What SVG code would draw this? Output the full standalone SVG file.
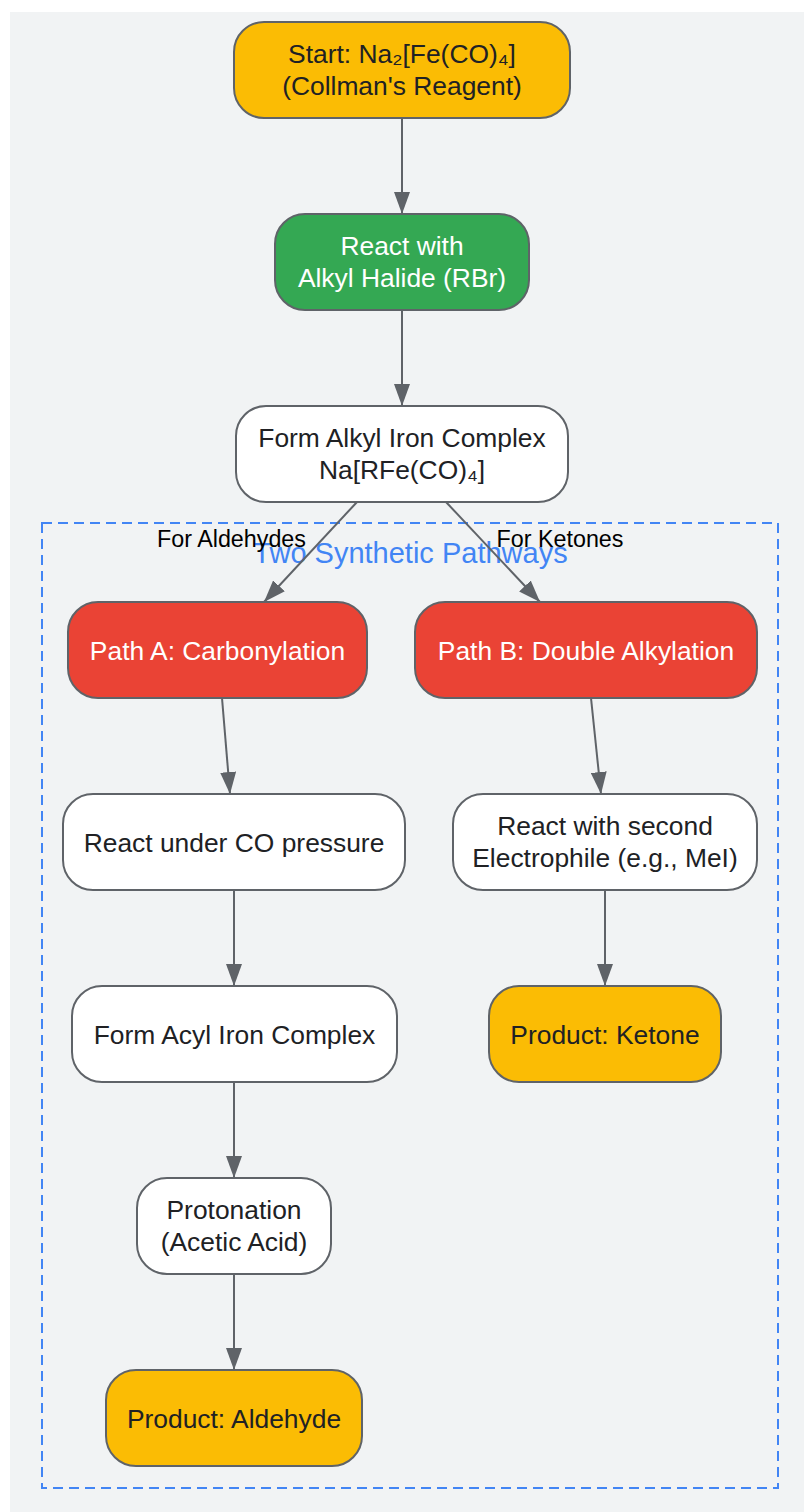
<svg xmlns="http://www.w3.org/2000/svg" width="804" height="1512" viewBox="0 0 804 1512">
<style>
.bg{fill:#f1f3f4}
.cluster{fill:none;stroke:#4285f4;stroke-width:2;stroke-dasharray:10 6}
.node rect{stroke:#5f6368;stroke-width:2}
.white rect{fill:#ffffff}
.yellow rect{fill:#fbbc04}
.green rect{fill:#34a853}
.red rect{fill:#ea4335}
text{font-family:"Liberation Sans",Arial,sans-serif;text-anchor:middle}
.node text{font-size:26.4px;fill:#202124}
.green text,.red text{fill:#ffffff}
.edge{stroke:#5f6368;stroke-width:2;fill:none;marker-end:url(#arrow)}
.elabel{font-size:23.3px;fill:#000000}
.ctitle{font-size:29px;fill:#4285f4}
</style>
<defs>
<marker id="arrow" markerUnits="userSpaceOnUse" markerWidth="22" markerHeight="16" refX="22" refY="8" orient="auto">
<path d="M0,0 L22,8 L0,16 z" fill="#5f6368"/>
</marker>
</defs>
<rect class="bg" x="10" y="12" width="794" height="1500"/>
<g id="cluster-pathways">
<rect class="cluster" x="42" y="523" width="736" height="965"/>
<text class="ctitle" x="410.5" y="563">Two Synthetic Pathways</text>
</g>
<g id="connectors">
<line class="edge" x1="402" y1="118" x2="402" y2="214"/>
<line class="edge" x1="402" y1="310" x2="402" y2="406"/>
<line class="edge" x1="357" y1="502" x2="264" y2="602"/>
<line class="edge" x1="446" y1="502" x2="540" y2="602"/>
<line class="edge" x1="222" y1="698" x2="230" y2="794"/>
<line class="edge" x1="591" y1="698" x2="601" y2="794"/>
<line class="edge" x1="234" y1="890" x2="234" y2="986"/>
<line class="edge" x1="605" y1="890" x2="605" y2="986"/>
<line class="edge" x1="234" y1="1082" x2="234" y2="1178"/>
<line class="edge" x1="234" y1="1274" x2="234" y2="1370"/>
<text class="elabel" x="231.5" y="547">For Aldehydes</text>
<text class="elabel" x="560" y="547">For Ketones</text>
</g>
<g id="start" class="node yellow">
<rect x="234" y="22" width="336" height="96" rx="30"/>
<text x="402" y="63">Start: Na₂[Fe(CO)₄]</text>
<text x="402" y="95">(Collman's Reagent)</text>
</g>
<g id="react-rbr" class="node green">
<rect x="275" y="214" width="254" height="96" rx="30"/>
<text x="402" y="255">React with</text>
<text x="402" y="287">Alkyl Halide (RBr)</text>
</g>
<g id="alkyl-complex" class="node white">
<rect x="236" y="406" width="332" height="96" rx="30"/>
<text x="402" y="447">Form Alkyl Iron Complex</text>
<text x="402" y="479">Na[RFe(CO)₄]</text>
</g>
<g id="path-a" class="node red">
<rect x="68" y="602" width="299" height="96" rx="30"/>
<text x="217.5" y="659.5">Path A: Carbonylation</text>
</g>
<g id="path-b" class="node red">
<rect x="415" y="602" width="342" height="96" rx="30"/>
<text x="586" y="659.5">Path B: Double Alkylation</text>
</g>
<g id="co-pressure" class="node white">
<rect x="63" y="794" width="342" height="96" rx="30"/>
<text x="234" y="851.5">React under CO pressure</text>
</g>
<g id="second-electrophile" class="node white">
<rect x="453" y="794" width="304" height="96" rx="30"/>
<text x="605" y="835">React with second</text>
<text x="605" y="867">Electrophile (e.g., MeI)</text>
</g>
<g id="acyl-complex" class="node white">
<rect x="72" y="986" width="325" height="96" rx="30"/>
<text x="234.5" y="1043.5">Form Acyl Iron Complex</text>
</g>
<g id="ketone" class="node yellow">
<rect x="489" y="986" width="232" height="96" rx="30"/>
<text x="605" y="1043.5">Product: Ketone</text>
</g>
<g id="protonation" class="node white">
<rect x="137" y="1178" width="194" height="96" rx="30"/>
<text x="234" y="1219">Protonation</text>
<text x="234" y="1251">(Acetic Acid)</text>
</g>
<g id="aldehyde" class="node yellow">
<rect x="106" y="1370" width="256" height="96" rx="30"/>
<text x="234" y="1427.5">Product: Aldehyde</text>
</g>
</svg>
